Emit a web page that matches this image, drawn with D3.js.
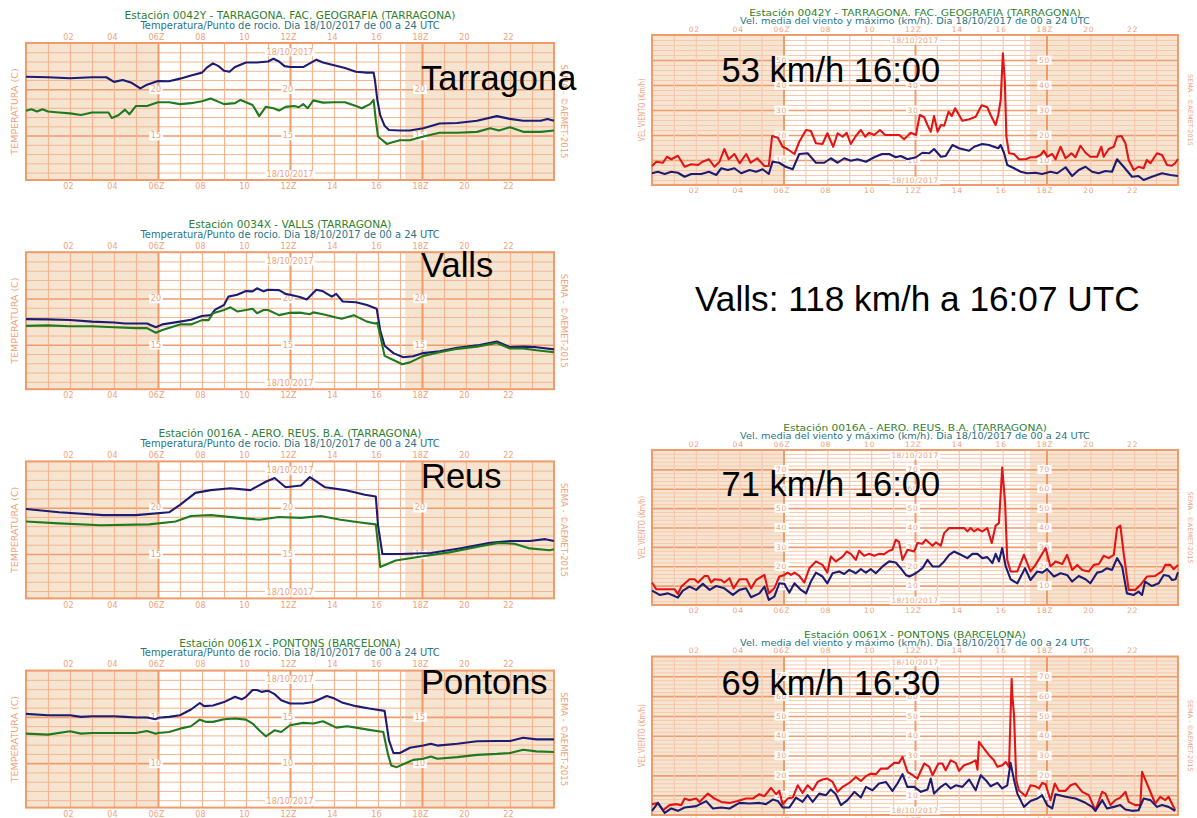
<!DOCTYPE html>
<html><head><meta charset="utf-8">
<script src="https://cdn.jsdelivr.net/npm/d3@7"></script>
<style>body{margin:0;background:#fff}svg{display:block}</style>
</head><body><svg id="c" width="1197" height="818"></svg>
<script>
// ---------------- DATA ----------------
const hourTicks = [2,4,6,8,10,12,14,16,18,20,22];
const hourLabels = ["02","04","06Z","08","10","12Z","14","16","18Z","20","22"];
const dateLabel = "18/10/2017";

const tempTitles = ["Estación 0042Y - TARRAGONA. FAC. GEOGRAFIA (TARRAGONA)","Estación 0034X - VALLS (TARRAGONA)","Estación 0016A - AERO. REUS. B.A. (TARRAGONA)","Estación 0061X - PONTONS (BARCELONA)"];
const tempSubtitle = "Temperatura/Punto de rocio. Dia 18/10/2017 de 00 a 24 UTC";
const windSubtitle = "Vel. media del viento y máximo (km/h). Dia 18/10/2017 de 00 a 24 UTC";
const tempNames = ["Tarragona","Valls","Reus","Pontons"];
const tempTickVals = [[15,20],[15,20],[15,20],[10,15]];
const tempDomains = [[10.2,25],[10.2,25],[10.2,25],[5.2,20]];
const windNames = ["53 km/h 16:00","71 km/h 16:00","69 km/h 16:30"];
const windTitles = [tempTitles[0], tempTitles[2], tempTitles[3]];
const windTickVals = [[10,20,30,40,50],[10,20,30,40,50,60,70],[10,20,30,40,50,60,70]];
const windDomains = [[0,60],[0,80],[0,80]];
const vallsNote = "Valls: 118 km/h a 16:07 UTC";

// temperature [hour, °C]
const tarrTemp = [[0,21.36],[1,21.3],[2,21.2],[3,21.3],[3.65,21.3],[4,20.8],[4.4,21.0],[4.8,20.7],[5.2,20.1],[5.5,20.5],[6,20.9],[6.5,20.86],[7,21.15],[7.5,21.5],[8,21.8],[8.25,22.4],[8.5,22.8],[8.75,22.5],[9,22.0],[9.25,21.9],[9.5,22.4],[10,22.9],[10.5,22.9],[11,23.0],[11.25,23.3],[11.5,23.0],[11.75,22.5],[12,22.4],[12.6,22.4],[13.2,23.2],[13.5,22.9],[14,22.6],[14.5,22.3],[15,21.9],[15.5,21.8],[15.8,21.8],[15.86,21.0],[15.97,18.85],[16.1,17.2],[16.3,16.05],[16.5,15.6],[17,15.55],[17.45,15.55],[18.06,15.8],[18.8,16.3],[19.6,16.35],[20.5,16.6],[21.4,17.1],[22,16.8],[22.6,16.6],[23.4,16.6],[23.7,16.8],[24,16.6]];
const tarrDew = [[0,17.67],[0.25,17.85],[0.5,17.6],[0.75,17.85],[1,17.6],[1.5,17.5],[2,17.4],[2.5,17.23],[3,17.5],[3.75,17.5],[3.9,16.9],[4.2,17.2],[4.5,17.8],[4.7,17.3],[5,18.2],[5.5,18.2],[6,18.6],[6.5,18.6],[7,18.4],[7.5,18.5],[8,18.7],[8.4,19.0],[9,18.4],[9.5,18.5],[9.75,18.85],[10,18.6],[10.3,18.3],[10.6,17.1],[10.9,18.1],[11.25,17.95],[11.5,17.7],[11.8,18.1],[12.2,18.2],[12.4,18.06],[12.6,18.4],[12.8,17.95],[13.06,18.8],[13.5,18.56],[14,18.6],[14.5,18.6],[15,18.2],[15.26,17.95],[15.64,18.4],[15.8,18.85],[15.9,16.7],[16.0,14.9],[16.4,14.1],[16.7,14.3],[17,14.5],[17.45,14.5],[18.06,14.9],[18.8,15.3],[19.6,15.3],[20.5,15.4],[21.1,15.8],[21.5,15.55],[22,15.9],[22.6,15.4],[23.4,15.4],[24,15.55]];
const vallsTemp = [[0,17.77],[1,17.74],[2,17.67],[3,17.5],[4,17.4],[4.5,17.3],[5.5,17.3],[5.9,16.9],[6.2,17.2],[7,17.5],[7.5,17.7],[8,18.1],[8.4,18.2],[8.6,18.8],[9,19.3],[9.2,20.2],[9.6,20.4],[10,20.8],[10.3,20.77],[10.5,21.1],[10.8,20.77],[11,20.95],[11.5,20.9],[11.8,20.5],[12,20.4],[12.45,20.15],[12.76,19.9],[13.2,20.95],[13.5,20.77],[13.9,20.2],[14.1,20.5],[14.4,19.67],[15,19.6],[15.5,19.3],[15.94,18.9],[16.1,16.57],[16.3,14.9],[16.7,14.1],[17.15,13.65],[17.6,13.76],[18.06,14.1],[18.8,14.3],[19.6,14.67],[20.5,14.93],[21.4,15.36],[22,14.74],[22.6,14.8],[23.2,14.74],[24,14.5]];
const vallsDew = [[0,17.04],[1,17.1],[2,17.0],[3,17.0],[4,16.9],[5,16.8],[5.5,16.8],[5.9,16.3],[6.2,16.6],[7,17.2],[7.5,17.2],[8,17.66],[8.3,17.66],[8.5,18.4],[9,18.76],[9.3,19.05],[9.6,18.6],[10,18.76],[10.3,18.9],[10.5,18.4],[10.8,18.76],[11,18.76],[11.5,18.2],[12,18.45],[12.45,18.47],[12.9,18.3],[13.06,18.5],[13.5,18.3],[14,18.0],[14.35,17.8],[14.9,18.2],[15.5,17.5],[15.86,17.3],[15.97,17.37],[16.1,16.0],[16.3,13.8],[16.7,13.36],[17.1,12.9],[17.45,13.1],[18.06,13.8],[18.8,14.2],[19.6,14.56],[20.5,14.8],[21.4,15.2],[22,14.6],[22.6,14.6],[23.2,14.4],[24,14.2]];
const reusTemp = [[0,19.85],[1.5,19.5],[3.5,19.2],[5,19.2],[6.5,19.5],[7,20.3],[7.7,21.6],[8.4,21.9],[9.3,22.1],[10.2,21.9],[10.9,22.8],[11.3,23.2],[11.8,22.2],[12.5,22.4],[12.9,23.3],[13.6,22.2],[14.5,21.9],[15.4,21.4],[15.9,21.2],[16.0,18.1],[16.2,15.0],[17,15.0],[18.4,15.1],[19.7,15.6],[21.1,16.2],[22,16.4],[22.9,16.4],[23.6,16.6],[24,16.4]];
const reusDew = [[0,18.5],[1.5,18.3],[3.4,18.1],[5.6,18.2],[6.8,18.5],[7.5,19.1],[8.4,19.2],[9.7,18.9],[10.6,18.7],[11.5,19.0],[12.5,18.9],[13.4,19.1],[14.3,18.7],[15.2,18.4],[15.9,18.2],[16.0,16.0],[16.1,13.6],[16.8,14.3],[17.9,14.7],[19.3,15.2],[20.6,15.8],[21.5,16.2],[22.2,16.1],[22.9,15.6],[23.8,15.4],[24,15.5]];
const pontTemp = [[0,15.33],[1,15.18],[2,15.18],[2.5,15.0],[3,15.07],[4,15.07],[4.5,15.0],[5,14.93],[5.5,14.93],[5.9,14.75],[6,14.9],[6.5,15.0],[7,15.18],[7.5,15.8],[7.9,16.5],[8.1,16.16],[8.5,16.23],[9,16.6],[9.5,17.17],[9.8,16.9],[10,17.17],[10.3,17.9],[10.5,17.9],[10.7,17.7],[11,17.83],[11.3,17.46],[11.6,16.8],[12,16.45],[12.6,16.45],[13.06,16.6],[13.67,17.25],[14,17.0],[14.4,16.52],[15,16.16],[15.6,15.9],[16.3,15.65],[16.5,12.46],[16.7,11.1],[17,11.1],[17.45,11.67],[18.06,11.9],[18.4,12.1],[18.7,11.9],[19.6,12.1],[20.5,12.36],[21.4,12.4],[22,12.4],[22.6,12.75],[23.2,12.57],[24,12.57]];
const pontDew = [[0,13.19],[1,13.08],[2,13.44],[2.5,13.19],[3,13.26],[4,13.26],[5,13.26],[5.5,13.48],[5.9,13.19],[6,13.26],[6.5,13.37],[7,13.73],[7.5,13.99],[7.9,14.7],[8.2,14.46],[8.5,14.46],[9,14.75],[9.5,14.82],[10,14.7],[10.3,14.28],[10.6,13.55],[10.9,12.9],[11.3,13.55],[11.6,13.37],[12,14.1],[12.6,14.35],[13.06,14.28],[13.5,14.53],[14.1,13.84],[14.6,13.99],[15,13.84],[15.6,13.6],[16.24,13.37],[16.45,11.0],[16.6,9.75],[16.85,9.57],[17.2,9.93],[17.6,10.36],[18.06,10.47],[18.4,10.72],[18.7,10.47],[19.6,10.65],[20.5,10.9],[21.4,11.0],[22,11.1],[22.6,11.45],[23.2,11.27],[24,11.2]];

// wind [hour, km/h]
const tarrGust = [[0,7.6],[0.2,9.3],[0.5,8.9],[0.68,11.3],[0.88,10.3],[1.18,11.7],[1.49,7.3],[1.79,8.3],[2.1,8.0],[2.3,9.3],[2.6,10.3],[2.85,7.3],[3.08,9.3],[3.3,14.4],[3.5,10.3],[3.76,12.4],[4.0,8.7],[4.3,12.4],[4.5,8.9],[4.8,10.7],[5.13,7.6],[5.33,7.6],[5.48,19.6],[5.74,18.9],[5.96,15.3],[6.19,14.3],[6.5,12.4],[6.72,17.3],[7.03,22.0],[7.25,21.6],[7.48,16.7],[7.78,16.4],[8.0,20.7],[8.27,15.3],[8.47,20.7],[8.7,19.3],[8.88,20.9],[9.07,16.4],[9.3,19.6],[9.53,22.0],[9.73,19.3],[9.9,20.9],[10.14,20.0],[10.4,22.0],[10.64,20.0],[11.28,20.0],[11.5,18.3],[11.81,20.9],[12.04,20.0],[12.22,28.0],[12.42,27.1],[12.57,24.0],[12.72,21.3],[12.87,27.6],[13.03,21.3],[13.18,24.0],[13.33,23.7],[13.53,29.3],[13.68,27.6],[13.83,30.7],[14.16,25.7],[14.47,26.3],[14.77,27.3],[15.04,31.9],[15.3,31.1],[15.45,28.0],[15.68,24.0],[15.8,28.0],[15.91,34.0],[16.01,52.7],[16.1,41.3],[16.17,19.3],[16.29,12.7],[16.52,12.4],[16.74,10.3],[17.05,10.3],[17.27,11.1],[17.5,11.1],[17.73,12.0],[17.88,13.7],[18.03,11.3],[18.26,12.4],[18.41,10.3],[18.64,15.3],[18.87,10.7],[19.14,12.7],[19.32,11.1],[19.55,15.7],[19.78,12.9],[20.0,11.3],[20.31,11.3],[20.5,15.3],[20.61,11.3],[20.84,14.4],[21.07,15.3],[21.22,19.3],[21.42,19.6],[21.6,16.7],[21.75,10.0],[21.98,6.0],[22.2,7.3],[22.43,6.7],[22.58,10.0],[22.74,8.7],[23.04,12.7],[23.27,12.0],[23.5,8.0],[23.72,7.7],[23.87,8.7],[24,10.4]];
const tarrMean = [[0,4.7],[0.27,5.3],[0.58,4.4],[0.88,5.3],[1.18,4.9],[1.49,3.3],[1.79,4.4],[2.25,4.4],[2.6,5.3],[2.93,4.0],[3.16,6.7],[3.46,6.0],[3.76,6.7],[4.07,4.7],[4.45,6.0],[4.75,5.3],[5.05,6.3],[5.33,4.4],[5.5,9.3],[5.8,8.9],[6.1,7.3],[6.42,6.3],[6.72,12.4],[7.1,12.7],[7.48,8.9],[7.86,8.9],[8.16,10.7],[8.47,8.9],[8.77,10.7],[9.07,9.7],[9.38,10.3],[9.76,9.3],[10.14,11.1],[10.5,12.4],[10.82,12.4],[11.12,11.1],[11.35,11.6],[11.66,10.3],[12.04,11.1],[12.34,12.9],[12.65,12.7],[12.87,14.4],[13.18,11.3],[13.4,11.6],[13.71,16.0],[14.01,14.7],[14.47,13.7],[14.7,15.3],[15.07,16.4],[15.38,16.0],[15.6,15.3],[15.8,14.7],[15.91,16.0],[16.06,12.9],[16.21,8.0],[16.52,6.7],[16.82,5.3],[17.12,4.7],[17.5,4.9],[17.8,4.4],[18.18,5.3],[18.49,4.7],[18.87,7.1],[19.17,3.6],[19.47,6.0],[19.78,7.3],[20.08,5.3],[20.38,4.7],[20.69,5.6],[20.99,5.3],[21.22,10.3],[21.52,7.3],[21.9,3.3],[22.2,3.6],[22.43,2.0],[22.81,3.3],[23.27,4.7],[23.65,4.0],[24,3.6]];
const reusGust = [[0,11.6],[0.2,8.1],[0.5,8.1],[1.03,8.1],[1.18,5.7],[1.34,9.5],[1.71,13.3],[1.94,13.3],[2.1,11.6],[2.4,15.0],[2.55,15.0],[2.7,11.6],[2.85,13.3],[3.16,12.9],[3.3,11.6],[3.54,13.8],[3.72,8.6],[3.99,13.3],[4.32,13.3],[4.52,8.6],[4.75,12.9],[5.13,15.5],[5.33,6.0],[5.58,8.6],[5.81,14.7],[6.04,15.5],[6.19,16.7],[6.34,15.5],[6.5,16.7],[6.72,15.0],[6.95,11.6],[7.18,19.0],[7.48,22.5],[7.78,20.7],[8.0,16.7],[8.16,25.0],[8.39,22.5],[8.7,25.0],[8.88,27.6],[9.07,26.4],[9.3,23.3],[9.45,28.0],[9.68,25.4],[9.9,26.4],[10.14,25.4],[10.36,26.4],[10.59,26.2],[10.82,28.0],[10.97,28.5],[11.12,33.7],[11.27,32.6],[11.43,23.3],[11.66,28.5],[11.96,27.6],[12.11,32.0],[12.34,31.6],[12.49,33.7],[12.8,30.6],[12.95,32.3],[13.18,30.6],[13.33,37.1],[13.56,39.7],[13.94,39.7],[14.24,39.7],[14.39,38.0],[14.54,39.7],[14.69,38.0],[14.85,39.2],[15.07,38.0],[15.3,39.7],[15.5,32.0],[15.68,41.0],[15.83,42.3],[15.98,70.9],[16.11,52.7],[16.21,23.3],[16.36,17.3],[16.67,17.3],[16.97,25.9],[17.27,17.3],[17.5,20.7],[17.73,25.0],[17.96,29.4],[18.18,19.9],[18.41,22.5],[18.72,21.2],[18.94,25.9],[19.17,18.1],[19.4,20.7],[19.63,18.1],[19.93,17.3],[20.16,20.7],[20.39,21.2],[20.61,25.4],[20.84,24.2],[21.07,25.9],[21.22,39.7],[21.37,41.0],[21.52,26.8],[21.75,7.8],[22.05,7.8],[22.28,10.3],[22.58,14.7],[22.96,15.0],[23.27,17.3],[23.42,20.7],[23.65,20.7],[23.8,18.5],[24,20.7]];
const reusMean = [[0,7.4],[0.35,5.2],[0.73,6.0],[1.03,4.6],[1.18,3.8],[1.41,7.4],[1.71,9.5],[2.02,7.8],[2.32,10.9],[2.63,7.8],[2.93,9.8],[3.3,8.6],[3.69,5.2],[3.99,7.8],[4.29,8.6],[4.52,4.0],[4.9,6.0],[5.13,9.5],[5.33,2.6],[5.58,4.3],[5.81,11.2],[6.04,10.9],[6.27,6.4],[6.5,11.2],[6.8,7.8],[7.03,6.0],[7.25,12.1],[7.48,16.7],[7.78,14.7],[8.0,11.2],[8.24,16.4],[8.54,17.3],[8.77,16.0],[9.0,18.1],[9.3,16.4],[9.53,18.5],[9.76,16.7],[9.98,18.5],[10.21,16.4],[10.52,19.9],[10.82,22.5],[11.12,21.9],[11.35,19.0],[11.58,15.5],[11.74,14.7],[12.04,16.4],[12.34,19.0],[12.57,23.3],[12.8,19.9],[13.1,19.9],[13.33,22.5],[13.56,25.9],[13.78,27.6],[14.09,25.9],[14.39,24.2],[14.62,26.4],[14.85,26.4],[15.07,24.2],[15.3,24.7],[15.53,21.6],[15.68,26.4],[15.83,22.5],[15.98,29.4],[16.14,19.9],[16.36,13.3],[16.67,11.2],[17.02,19.0],[17.27,12.9],[17.58,17.3],[17.81,16.7],[18.03,18.5],[18.34,14.7],[18.64,16.4],[18.94,15.5],[19.17,12.1],[19.47,15.0],[19.78,13.3],[20.0,11.2],[20.31,16.7],[20.54,17.3],[20.76,19.0],[20.99,18.1],[21.22,24.2],[21.45,19.9],[21.67,6.0],[21.98,5.2],[22.2,6.9],[22.36,5.2],[22.5,12.1],[22.81,9.8],[23.12,11.2],[23.35,15.5],[23.58,15.0],[23.73,12.9],[23.89,13.3],[24,16.9]];
const pontGust = [[0,5.5],[0.27,6.1],[0.5,2.4],[0.8,5.0],[1.1,5.5],[1.34,5.0],[1.49,8.3],[1.71,7.5],[2.02,8.3],[2.17,6.6],[2.55,10.8],[2.85,8.3],[3.16,6.6],[3.54,6.1],[3.91,7.1],[4.29,8.3],[4.6,8.3],[4.9,10.5],[5.13,9.5],[5.43,13.7],[5.66,10.5],[5.81,12.2],[5.96,5.3],[6.19,8.3],[6.42,8.8],[6.65,15.0],[6.87,11.2],[7.1,15.0],[7.33,12.5],[7.56,16.7],[7.78,17.9],[8.0,18.4],[8.24,16.7],[8.47,11.7],[8.7,14.2],[9.0,16.2],[9.3,19.2],[9.53,17.2],[9.76,19.6],[9.98,20.9],[10.21,20.6],[10.44,23.4],[10.74,23.4],[11.05,26.3],[11.27,26.3],[11.43,29.3],[11.66,21.8],[11.89,20.1],[12.11,18.4],[12.42,26.0],[12.65,24.3],[12.8,20.1],[13.07,26.0],[13.25,26.0],[13.4,22.6],[13.63,27.6],[13.86,26.3],[14.01,22.3],[14.24,25.1],[14.54,26.3],[14.77,27.6],[14.85,22.9],[14.92,36.9],[15.15,33.5],[15.38,30.2],[15.6,27.6],[15.76,24.3],[15.98,25.1],[16.14,26.8],[16.29,24.3],[16.41,68.8],[16.44,60.4],[16.52,50.3],[16.62,17.6],[16.74,12.5],[17.05,9.5],[17.27,15.0],[17.5,14.5],[17.66,13.4],[17.8,16.2],[17.96,15.5],[18.18,7.5],[18.38,15.9],[18.56,12.2],[18.87,12.2],[19.1,15.0],[19.32,15.9],[19.63,11.7],[19.93,10.0],[20.23,2.4],[20.54,11.7],[20.69,10.8],[20.92,5.0],[21.14,7.5],[21.37,8.8],[21.6,11.7],[21.75,6.6],[22.05,5.0],[22.28,5.0],[22.36,21.8],[22.58,15.9],[22.96,5.8],[23.19,9.2],[23.42,7.5],[23.57,9.2],[23.87,2.4]];
const pontMean = [[0,2.1],[0.27,6.1],[0.58,1.1],[0.88,3.3],[1.18,2.1],[1.49,3.8],[2.02,4.5],[2.47,7.0],[2.78,3.3],[3.16,3.8],[3.54,3.3],[3.99,6.1],[4.45,5.8],[4.9,6.1],[5.2,5.5],[5.51,7.8],[5.74,7.1],[5.96,3.8],[6.27,3.8],[6.57,8.8],[6.87,6.6],[7.1,10.0],[7.33,6.6],[7.63,10.8],[7.94,10.0],[8.16,12.9],[8.39,10.5],[8.62,5.0],[8.92,7.5],[9.23,11.7],[9.53,8.8],[9.76,14.2],[10.06,12.5],[10.36,15.9],[10.67,16.7],[10.97,12.2],[11.2,15.9],[11.43,20.6],[11.65,14.2],[11.96,14.2],[12.27,11.7],[12.57,12.9],[12.72,18.4],[12.87,10.8],[13.18,14.2],[13.4,15.9],[13.63,13.4],[13.86,15.0],[14.16,14.2],[14.47,17.9],[14.77,12.5],[15.0,20.1],[15.23,17.6],[15.45,14.5],[15.76,16.2],[15.98,13.4],[16.21,15.0],[16.36,26.3],[16.52,17.6],[16.67,10.8],[16.97,4.1],[17.27,7.1],[17.58,8.3],[17.8,10.0],[18.03,5.0],[18.26,3.3],[18.41,10.5],[18.87,9.2],[19.32,8.3],[19.7,6.6],[20.08,4.1],[20.23,2.1],[20.54,7.5],[20.76,3.3],[21.07,4.1],[21.37,5.0],[21.6,2.8],[21.9,2.1],[22.2,2.4],[22.43,8.3],[22.74,7.5],[23.04,4.1],[23.27,5.0],[23.57,4.1],[23.87,2.1]];

// ---------------- DRAW ----------------
const svg = d3.select('#c');
const C = {gridMin:'#f4b592', gridMaj:'#ef9b6c', windMin:'#f7c8ae', shade:'#f5e4d0', lbl:'#f0a27a',
  t1:'#2f7f2f', t2:'#2a7486', temp:'#1c1c72', dew:'#1f7a1f', gust:'#e31414', mean:'#1c1c72'};
const NIGHT_END = 6.04, NIGHT_START = 17.24;
const FS = 'DejaVu Sans, Verdana, sans-serif';

function fit(sel, factor){
  const L = sel.node().getComputedTextLength();
  sel.attr('textLength', L*factor).attr('lengthAdjust','spacingAndGlyphs');
}

function panel(o){
  const g = svg.append('g');
  const x = d3.scaleLinear().domain([0,24]).range([o.x0,o.x1]);
  const y = d3.scaleLinear().domain(o.domain).range([o.bottom,o.top]);
  const H = o.bottom - o.top;
  g.append('rect').attr('x',x(0)).attr('y',o.top).attr('width',x(NIGHT_END)-x(0)).attr('height',H).attr('fill',C.shade);
  g.append('rect').attr('x',x(NIGHT_START)).attr('y',o.top).attr('width',x(24)-x(NIGHT_START)).attr('height',H).attr('fill',C.shade);
  const hv = d3.range(o.domain[0], o.domain[1]+1e-6, o.hStep).map(v=>Math.round(v/o.hStep)*o.hStep)
     .filter(v=>v>o.domain[0]+0.01 && v<o.domain[1]-0.01);
  const hg = g.append('g').attr('transform',`translate(${o.x0},0)`)
    .call(d3.axisLeft(y).tickValues(hv).tickSize(-(o.x1-o.x0)).tickFormat(''));
  hg.select('.domain').remove();
  hg.selectAll('.tick line').attr('stroke', d=> Math.abs(d % o.hMajor)<1e-6 ? C.gridMaj : o.minColor)
    .attr('stroke-width', d=> Math.abs(d % o.hMajor)<1e-6 ? 1.6 : 1);
  const vg = g.append('g').attr('transform',`translate(0,${o.bottom})`)
    .call(d3.axisBottom(x).tickValues(d3.range(1,24)).tickSize(-H).tickFormat(''));
  vg.select('.domain').remove();
  vg.selectAll('.tick line').attr('stroke', d=> d%6===0 ? C.gridMaj : o.minColor)
    .attr('stroke-width', d=> d%6===0 ? 2 : 1.2);
  g.append('rect').attr('x',o.x0).attr('y',o.top).attr('width',o.x1-o.x0).attr('height',H)
    .attr('fill','none').attr('stroke',C.gridMaj).attr('stroke-width',2);
  const fmt = d => hourLabels[hourTicks.indexOf(d)];
  [[d3.axisTop, o.top, o.tickPadTop],[d3.axisBottom, o.bottom, o.tickPadBot]].forEach(([ax,yy,pad])=>{
    const a = g.append('g').attr('transform',`translate(0,${yy})`)
      .call(ax(x).tickValues(hourTicks).tickSize(0).tickPadding(pad).tickFormat(fmt));
    a.select('.domain').remove();
    a.attr('font-family',FS).attr('font-size',o.tickFs);
    a.selectAll('text').attr('fill',C.lbl).attr('dx',-2).attr('letter-spacing',o.tickLs);
  });
  o.vals.forEach(v=>{
    [6,12,18].forEach(h=>{
      const t = g.append('text').attr('x',x(h)-2).attr('y',y(v)).attr('dy','0.35em')
        .attr('text-anchor','middle').attr('font-family',FS).attr('font-size',o.tickFs)
        .attr('letter-spacing',o.tickLs).attr('fill',C.lbl).text(v);
      const b = t.node().getBBox();
      g.insert('rect', () => t.node()).attr('x',b.x-1.5).attr('y',b.y).attr('width',b.width+3).attr('height',b.height).attr('fill','#fff');
    });
  });
  [o.top+o.dateOffTop, o.bottom-o.dateOffBot].forEach(yy=>{
    const t = g.append('text').attr('x',x(12)).attr('y',yy).attr('dy','0.35em')
      .attr('text-anchor','middle').attr('font-family',FS).attr('font-size',o.tickFs)
      .attr('letter-spacing',o.tickLs*0.5).attr('fill',C.lbl).text(dateLabel);
    const b = t.node().getBBox();
    g.insert('rect', () => t.node()).attr('x',b.x-1.5).attr('y',b.y+0.5).attr('width',b.width+3).attr('height',b.height-1).attr('fill','#fff');
  });
  const yt = g.append('text').attr('transform',`translate(${o.ylabX},${(o.top+o.bottom)/2}) rotate(-90)`)
    .attr('text-anchor','middle').attr('dy','0.35em').attr('font-family',FS).attr('font-size',o.ylabFs)
    .attr('fill',C.lbl).text(o.ylab);
  if (o.ylabLen) yt.attr('textLength',o.ylabLen).attr('lengthAdjust','spacingAndGlyphs');
  g.append('text').attr('transform',`translate(${o.semaX},${(o.top+o.bottom)/2}) rotate(90)`)
    .attr('text-anchor','middle').attr('dy','0.35em').attr('font-family',FS).attr('font-size',o.semaFs)
    .attr('fill',C.lbl).text('SEMA - ©AEMET-2015');
  const cx = (o.x0+o.x1)/2;
  const t1 = g.append('text').attr('x',cx).attr('y',o.top-o.t1Off).attr('text-anchor','middle')
    .attr('font-family',FS).attr('font-size',o.t1Fs).attr('fill',C.t1).text(o.title);
  fit(t1, o.t1Fac);
  const t2 = g.append('text').attr('x',cx).attr('y',o.top-o.t2Off).attr('text-anchor','middle')
    .attr('font-family',FS).attr('font-size',o.t2Fs).attr('fill',C.t2).text(o.subtitle);
  fit(t2, o.t2Fac);
  const line = d3.line().x(d=>x(d[0])).y(d=>y(d[1]));
  o.series.forEach(s=>{
    g.append('path').datum(s.data).attr('d',line).attr('fill','none')
      .attr('stroke',s.color).attr('stroke-width',2.1).attr('stroke-linejoin','round');
  });
  g.append('text').attr('x',o.bigX).attr('y',o.bigY).attr('font-family','Liberation Sans, Arial, sans-serif')
    .attr('font-size',34.5).attr('fill','#000').text(o.big);
}

const tempSeries = [[tarrTemp,tarrDew],[vallsTemp,vallsDew],[reusTemp,reusDew],[pontTemp,pontDew]];
const tempTops = [43,252.2,461.4,670.6];
const tempBigY = [89.5,276.7,488,694];
tempTops.forEach((top,i)=>{
  panel({x0:26,x1:554,top:top,bottom:top+137,domain:tempDomains[i],hStep:1,hMajor:5,minColor:C.gridMin,
    tickFs:8,tickLs:0.2,tickPadTop:3.5,tickPadBot:3.6,vals:tempTickVals[i],dateOffTop:9,dateOffBot:6,
    ylab:'TEMPERATURA (C)',ylabX:15,ylabFs:9.5,semaX:564,semaFs:8.5,
    title:tempTitles[i],subtitle:tempSubtitle,t1Off:24,t2Off:14.5,t1Fs:10,t2Fs:10,t1Fac:1.06,t2Fac:0.99,
    series:[{data:tempSeries[i][0],color:C.temp},{data:tempSeries[i][1],color:C.dew}],
    big:tempNames[i],bigX:421,bigY:tempBigY[i]});
});

const windSeries = [[tarrGust,tarrMean],[reusGust,reusMean],[pontGust,pontMean]];
const windGeo = [[35,185],[450,605],[656.5,815]];
const windBigY = [81.7,496,695];
windGeo.forEach(([top,bottom],i)=>{
  panel({x0:652,x1:1178,top:top,bottom:bottom,domain:windDomains[i],hStep:2,hMajor:10,minColor:C.windMin,
    tickFs:7.5,tickLs:0.8,tickPadTop:3.3,tickPadBot:2.5,vals:windTickVals[i],dateOffTop:5.5,dateOffBot:4.5,
    ylab:'VEL VIENTO (Km/h)',ylabX:642,ylabFs:8,ylabLen:63,semaX:1190,semaFs:6.5,
    title:windTitles[i],subtitle:windSubtitle,t1Off:19,t2Off:11,t1Fs:8.5,t2Fs:8.5,t1Fac:1.25,t2Fac:1.15,
    series:[{data:windSeries[i][0],color:C.gust},{data:windSeries[i][1],color:C.mean}],
    big:windNames[i],bigX:721.5,bigY:windBigY[i]});
});

svg.append('text').attr('x',695).attr('y',311).attr('font-family','Liberation Sans, Arial, sans-serif')
  .attr('font-size',35.2).attr('fill','#000').text(vallsNote);
</script></body></html>
